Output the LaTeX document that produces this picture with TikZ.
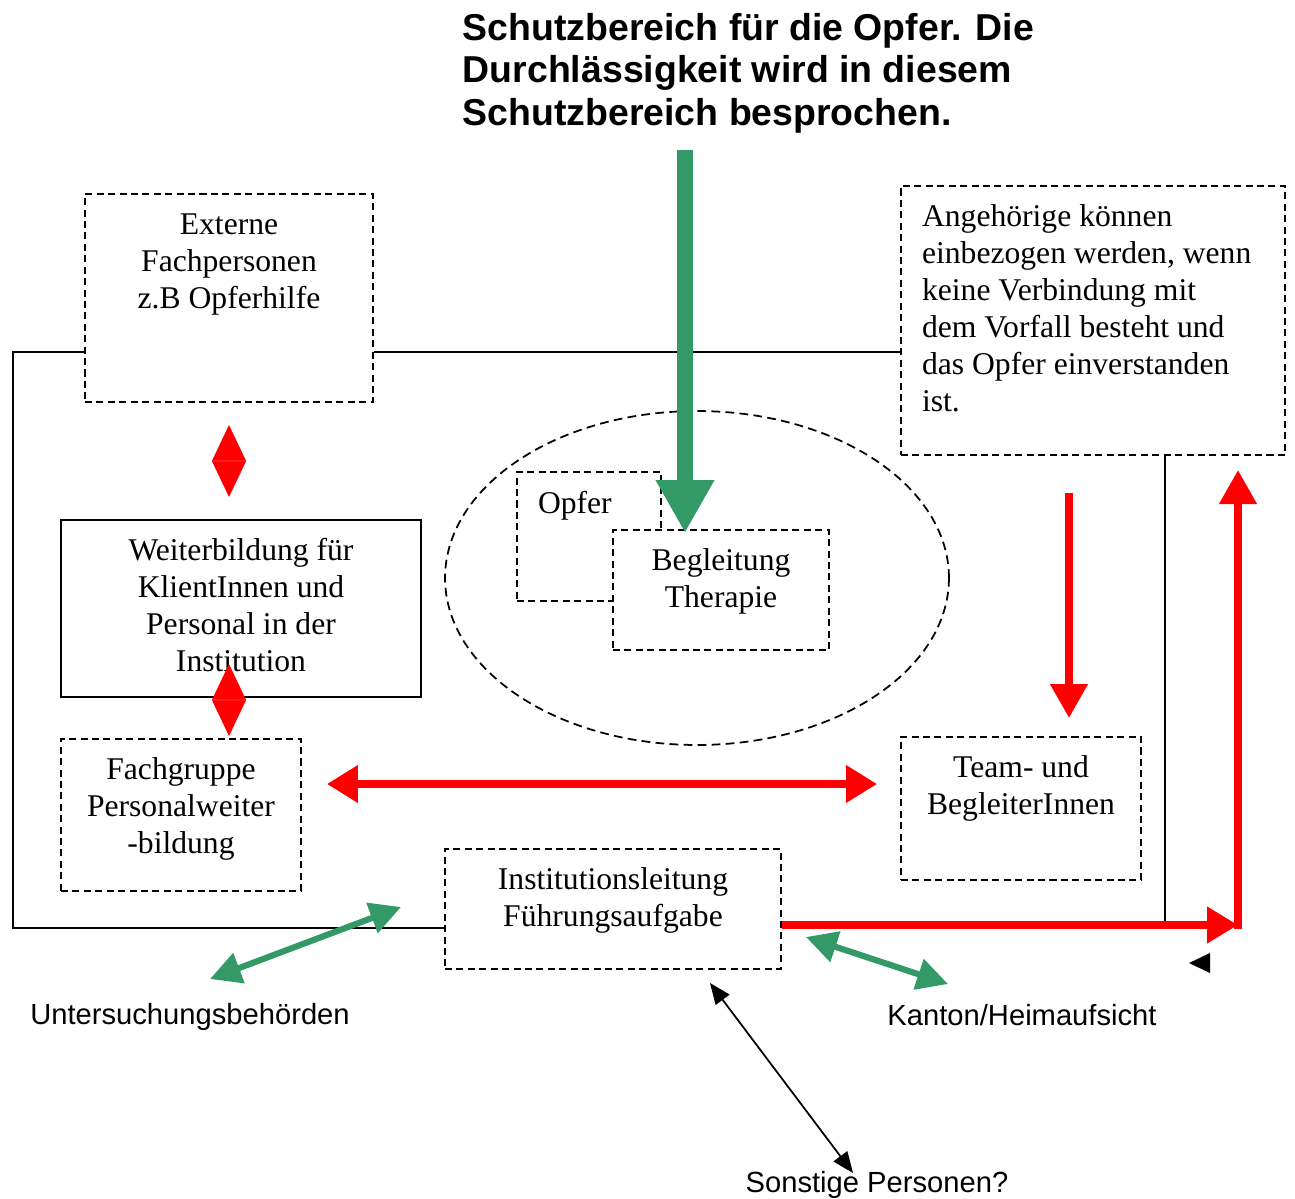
\documentclass[tikz,border=0pt]{standalone}
\usepackage{fontspec}
\setmainfont{Liberation Serif}
\newfontfamily\arialfont{Liberation Sans}
\usetikzlibrary{arrows.meta, positioning, shapes.geometric}
\definecolor{sgreen}{RGB}{51,153,102}
\begin{document}
\begin{tikzpicture}[x=0.02cm, y=-0.02cm, line width=1pt]
	\tikzset{
	    dbox/.style= {draw, dash pattern=on 4pt off 2.5pt, inner sep=0},
	    sbox/.style= {draw, inner sep=0},
	    btext/.style= {inner sep=0, align=center, font=\fontsize{18}{21}\selectfont},
	    ltext/.style= {inner sep=0, font=\arialfont\fontsize{16.6}{20}\selectfont},
	    ttext/.style= {inner sep=0, align=left, font=\arialfont\bfseries\fontsize{21.3}{24.4}\selectfont},
	    rsingle/.style= {red, line width=4.2pt, -{Triangle[length=0.68cm, width=0.72cm]}},
	    rdouble/.style= {red, line width=4.2pt, {Triangle[length=0.62cm, width=0.72cm]}-{Triangle[length=0.62cm, width=0.72cm]}},
	    rdiamond/.style= {red, line width=0.4pt, {Triangle[length=0.72cm, width=0.68cm]}-{Triangle[length=0.72cm, width=0.68cm]}},
	    gdouble/.style= {sgreen, line width=3.5pt, {Triangle[length=0.62cm, width=0.62cm]}-{Triangle[length=0.62cm, width=0.62cm]}},
	    gbig/.style= {sgreen, line width=9pt, -{Triangle[length=1.06cm, width=1.1cm]}},
	    kdouble/.style= {black, line width=1pt, {Triangle[length=0.42cm, width=0.34cm]}-{Triangle[length=0.42cm, width=0.34cm]}},
	}
	\useasboundingbox (0, 0) rectangle (1295, 1198);

	% Titel
	\node[ttext, anchor=north west] (t0) at (462, 12) {Schutzbereich für die Opfer. Die\\Durchlässigkeit wird in diesem\\Schutzbereich besprochen.};

	% Kaestchen
	\node[dbox, minimum width=5.76cm, minimum height=4.16cm] (s1) at (229, 298) {};
	\node[dbox, minimum width=7.68cm, minimum height=5.38cm] (s2) at (1093, 320.5) {};
	\node[dbox, ellipse, dash pattern=on 5pt off 3pt, minimum width=10.08cm, minimum height=6.68cm] (e1) at (697, 578) {};
	\node[dbox, minimum width=2.88cm, minimum height=2.58cm] (s3) at (589, 536.5) {};
	\node[dbox, fill=white, minimum width=4.32cm, minimum height=2.4cm] (s4) at (721, 590) {};
	\node[sbox, minimum width=7.2cm, minimum height=3.54cm] (s5) at (241, 608.5) {};
	\node[dbox, minimum width=4.8cm, minimum height=3.04cm] (s6) at (181, 815) {};
	\node[dbox, minimum width=4.8cm, minimum height=2.86cm] (s7) at (1021, 808.5) {};
	\node[dbox, minimum width=6.72cm, minimum height=2.4cm] (s8) at (613, 909) {};

	\node[btext, below=0.39cm of s1.north] (t1) {Externe\\Fachpersonen\\z.B Opferhilfe};
	\node[btext, align=left, below right=0.38cm and 0.42cm of s2.north west] (t2) {Angehörige können\\einbezogen werden, wenn\\keine Verbindung mit\\dem Vorfall besteht und\\das Opfer einverstanden\\ist.};
	\node[btext, below right=0.39cm and 0.42cm of s3.north west] (t3) {Opfer};
	\node[btext, below=0.38cm of s4.north] (t4) {Begleitung\\Therapie};
	\node[btext, below=0.37cm of s5.north] (t5) {Weiterbildung für\\KlientInnen und\\Personal in der\\Institution};
	\node[btext, below=0.38cm of s6.north] (t6) {Fachgruppe\\Personalweiter\\-bildung};
	\node[btext, below=0.37cm of s7.north] (t7) {Team- und\\BegleiterInnen};
	\node[btext, below=0.37cm of s8.north] (t8) {Institutionsleitung\\Führungsaufgabe};

	% Rahmen
	\coordinate (c1) at (13, 352);
	\coordinate (c2) at (13, 928);
	\coordinate (c3) at (1165, 926);
	\draw (s1.west |- c1) -- (c1) -- (c2) -- (s8.west |- c2);
	\draw (s1.east |- c1) -- (s2.west |- c1);
	\draw (s2.south -| c3) -- (c3);

	% Pfeile
	\coordinate (g1) at (685, 150);
	\coordinate (g2) at (685, 533);
	\draw[gbig] (g1) -- (g2);

	\coordinate (d1) at (229, 425);
	\coordinate (d2) at (229, 497);
	\coordinate (d3) at (229, 664);
	\coordinate (d4) at (229, 736);
	\draw[rdiamond] (d1) -- (d2);
	\draw[rdiamond] (d3) -- (d4);

	\coordinate (r1) at (327, 784);
	\coordinate (r2) at (877, 784);
	\draw[rdouble] (r1) -- (r2);

	\coordinate (r3) at (1069, 493);
	\coordinate (r4) at (1069, 718);
	\draw[rsingle] (r3) -- (r4);

	\coordinate (r5) at (1238, 925);
	\coordinate (r6) at (1238, 470);
	\draw[rsingle, -{Triangle[length=0.62cm, width=0.7cm]}] (s8.east |- r5) -- (r5);
	\draw[rsingle] ([yshift=-2pt]r5) -- (r6);
	\fill (1189, 963) -- (1210, 953) -- (1210, 973) -- cycle;

	\coordinate (a1) at (210, 979);
	\coordinate (a2) at (401, 907);
	\coordinate (a3) at (806, 937);
	\coordinate (a4) at (948, 984);
	\coordinate (a5) at (710, 983);
	\coordinate (a6) at (853, 1173);
	\draw[gdouble] (a1) -- (a2);
	\draw[gdouble] (a3) -- (a4);

	\node[ltext] (l1) at (190, 1017) {Untersuchungsbehörden};
	\node[ltext] (l2) at (1022, 1015) {Kanton/Heimaufsicht};
	\node[ltext] (l3) at (877, 1185) {Sonstige Personen?};
	\draw[kdouble] (a5) -- (a6);
\end{tikzpicture}
\end{document}
